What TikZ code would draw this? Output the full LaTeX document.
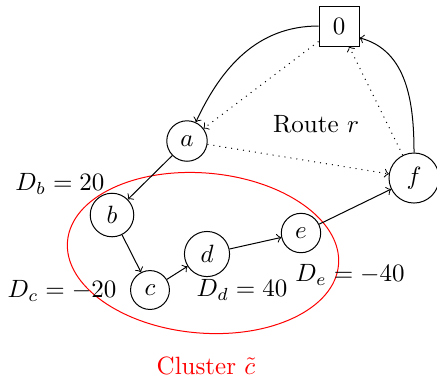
\documentclass[tikz,border=0pt]{standalone}
\begin{document}
\begin{tikzpicture}[x=0.4pt,y=0.4pt,
  vtx/.style={draw,circle},
  depot/.style={draw,rectangle,minimum size=16pt},
  route/.style={->},
  dotroute/.style={->,dotted},
  cluster/.style={draw=red}]
\useasboundingbox (0,0) rectangle (437,-383);
\node[depot] (n0) at (339,-26) {$0$};
\node[vtx] (a) at (187,-141) {$a$};
\node[vtx] (b) at (112,-215) {$b$};
\node[vtx] (c) at (150,-290) {$c$};
\node[vtx] (d) at (207,-254) {$d$};
\node[vtx] (e) at (301,-233) {$e$};
\node[vtx] (f) at (414,-178) {$f$};
\draw[cluster, rotate around={-5:(203,-253)}] (203,-253) ellipse [x radius=136, y radius=80];
\node (route) at (316,-124) {Route $r$};
\node (lb) at (60,-184) {$D_b = 20$};
\node (lc) at (62,-291) {$D_c = -20$};
\node (ld) at (242,-290) {$D_d = 40$};
\node (le) at (350,-275) {$D_e = -40$};
\node[text=red] (lcl) at (206,-366) {Cluster $\tilde{c}$};
\draw[route] (n0) to[out=180,in=65] (a);
\draw[route] (f) to[out=90,in=-15] (n0.-30);
\draw[dotroute] (n0) -- (a);
\draw[dotroute] (a) -- (f);
\draw[dotroute] (f) -- (n0);
\draw[route] (a) -- (b);
\draw[route] (b) -- (c);
\draw[route] (c) -- (d);
\draw[route] (d) -- (e);
\draw[route] (e) -- (f);
\end{tikzpicture}
\end{document}
